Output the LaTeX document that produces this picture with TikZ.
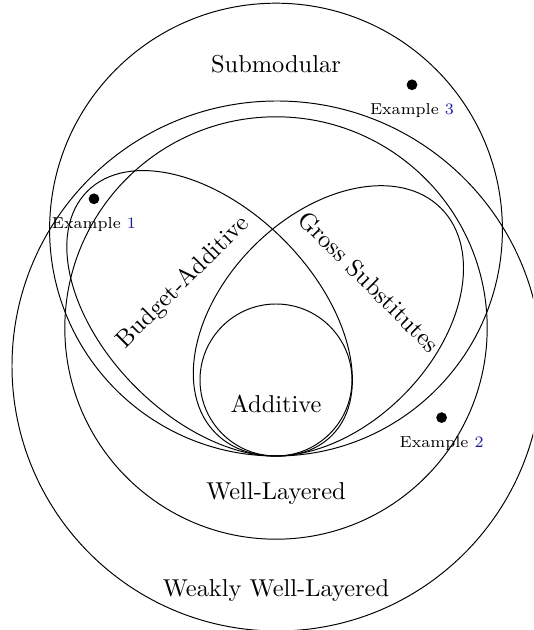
\documentclass[tikz,border=0pt]{standalone}
\usepackage{tikz}
\usetikzlibrary{positioning}
\definecolor{linkblue}{rgb}{0.1,0.1,0.62}

\begin{document}
\begin{tikzpicture}[x=16.38pt, y=16.38pt,
    dot/.style={circle, fill, inner sep=0pt, minimum size=4.4pt},
    exlabel/.style={inner sep=0pt, font=\fontsize{6.5}{7.5}\selectfont}]
\useasboundingbox (-6.9,-4.35) rectangle (6.425,11.4);
\clip (-6.9,-4.35) rectangle (6.425,11.4);

% outer classes
\draw (0.025,2.25) circle (6.625);
\draw (0,3.2) circle (5.28);
\draw (0,5.66) circle (5.66);
% the two tilted classes, all touching at the bottom
\draw[rotate around={135:(-1.66,3.566)}] (-1.66,3.566) ellipse (4.32 and 2.61);
\draw[rotate around={45:(1.31,3.38)}] (1.31,3.38) ellipse (3.98 and 2.64);
\draw (0,1.9) circle (1.9);

\node (sub) at (0,9.8) {Submodular};
\node (wl) at (0,-0.95) {Well-Layered};
\node (wwl) at (0,-3.375) {Weakly Well-Layered};
\node (add) at (0,1.3) {Additive};
\node[rotate=45] (ba) at (-2.31,4.34) {Budget-Additive};
\node[rotate=-45] (gs) at (2.325,4.36) {Gross Substitutes};

\node[dot] (d1) at (-4.55,6.43) {};
\node[exlabel, below=5pt of d1] (ex1) {Example \textcolor{linkblue}{1}};
\node[dot] (d2) at (4.14,0.96) {};
\node[exlabel, below=5pt of d2] (ex2) {Example \textcolor{linkblue}{2}};
\node[dot] (d3) at (3.4,9.28) {};
\node[exlabel, below=5pt of d3] (ex3) {Example \textcolor{linkblue}{3}};
\end{tikzpicture}
\end{document}
